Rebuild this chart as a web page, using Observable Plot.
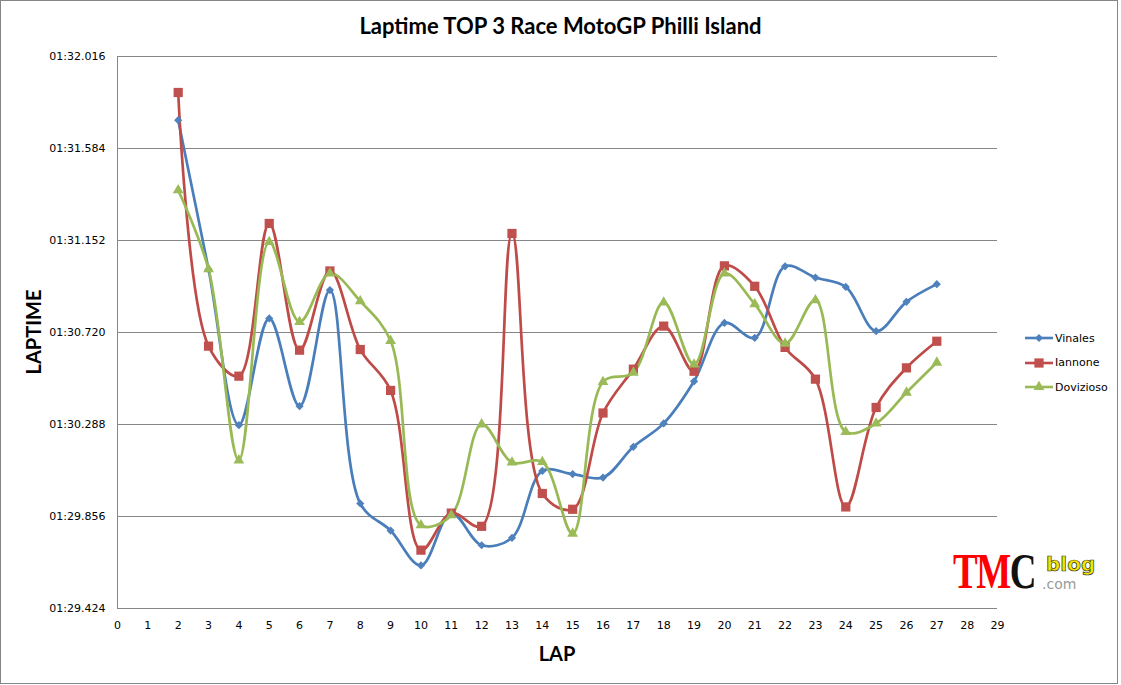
<!DOCTYPE html>
<html>
<head>
<meta charset="utf-8">
<script src="https://cdn.jsdelivr.net/npm/d3@7"></script>
<script src="https://cdn.jsdelivr.net/npm/@observablehq/plot@0.6"></script>
<style>
  body { margin: 0; background: #fff; }
  #wrap { position: relative; width: 1121px; height: 685px; font-family: "DejaVu Sans", sans-serif; }
  #frame { position: absolute; left: 0; top: 0; width: 1116px; height: 682px; border: 1px solid #868686; }
  #chart { position: absolute; left: 0; top: 0; }
  .title { position: absolute; left: 0; width: 1121px; top: 12px; text-align: center; font-family: Lato, sans-serif; font-weight: bold; font-size: 22px; line-height: 28px; color: #000; }
  .ytitle { position: absolute; left: -67px; top: 319px; width: 200px; height: 26px; line-height: 26px; text-align: center; transform: rotate(-90deg); font-family: Lato, sans-serif; font-weight: bold; font-size: 20px; }
  .xtitle { position: absolute; left: 457px; width: 200px; top: 640px; line-height: 26px; text-align: center; font-family: Lato, sans-serif; font-weight: bold; font-size: 20px; }
  #legend { position: absolute; left: 1025px; top: 326px; font-size: 11px; }
  .lg { display: flex; align-items: center; height: 24.5px; }
  .lg svg { margin-right: 2px; }
  .wm { position: absolute; left: 953px; top: 546px; font-family: "Liberation Serif", serif; font-weight: bold; font-size: 50px; line-height: 50px; transform: scaleX(0.74); transform-origin: left top; white-space: nowrap; letter-spacing: -2px; }
  .blog { position: absolute; left: 1046px; top: 552px; font-family: "DejaVu Sans", sans-serif; font-weight: bold; font-size: 20px; color: #f5e400; -webkit-text-stroke: 0.7px #333; }
  .com { position: absolute; left: 1042px; top: 576px; font-family: "DejaVu Sans", sans-serif; font-size: 14px; color: #9a9a9a; }
</style>
</head>
<body>
<div id="wrap">
  <div id="frame"></div>
  <div id="chart"></div>
  <div class="title">Laptime TOP 3 Race MotoGP Philli Island</div>
  <div class="ytitle">LAPTIME</div>
  <div class="xtitle">LAP</div>
  <div id="legend"></div>
  <div class="wm"><span style="color:#f00">TM</span><span style="color:#111">C</span></div>
  <div class="blog">blog</div>
  <div class="com">.com</div>
</div>
<script>
// ---- Data (lap times in seconds) ----
const riders = ["Vinales", "Iannone", "Dovizioso"];
const laps = [2, 3, 4, 5, 6, 7, 8, 9, 10, 11, 12, 13, 14, 15, 16, 17, 18, 19, 20, 21, 22, 23, 24, 25, 26, 27];
const vinales = [91.717, 91.017, 90.285, 90.786, 90.374, 90.919, 89.917, 89.790, 89.626, 89.872, 89.721, 89.756, 90.070,
  90.055, 90.039, 90.183, 90.293, 90.491, 90.765, 90.695, 91.031, 90.978, 90.934, 90.726, 90.864, 90.947];
const iannone = [91.847, 90.656, 90.515, 91.232, 90.637, 91.009, 90.640, 90.448, 89.698, 89.872, 89.810, 91.185, 89.964,
  89.890, 90.342, 90.548, 90.750, 90.538, 91.033, 90.937, 90.650, 90.501, 89.901, 90.368, 90.554, 90.679];
const dovizioso = [91.388, 91.017, 90.120, 91.145, 90.770, 90.997, 90.867, 90.681, 89.815, 89.862, 90.289, 90.110, 90.112,
  89.776, 90.488, 90.532, 90.861, 90.570, 90.997, 90.853, 90.668, 90.872, 90.253, 90.293, 90.438, 90.579];
const yTicks = [89.424, 89.856, 90.288, 90.720, 91.152, 91.584, 92.016];
const xTicks = [0, 1, 2, 3, 4, 5, 6, 7, 8, 9, 10, 11, 12, 13, 14, 15, 16, 17, 18, 19, 20, 21, 22, 23, 24, 25, 26, 27, 28, 29];

const lineColors = ["#4a7ebb", "#be4b48", "#98b954"];
const markColors = ["#4f81bd", "#c0504d", "#9bbb59"];
const symbols = ["diamond2", "square", "triangle"];
const radii = [3.7, 5.2, 4.0];

const series = [vinales, iannone, dovizioso];
const rows = series.map((vals, i) => laps.map((lap, j) => ({ rider: riders[i], lap, time: vals[j] })));
const all = rows.flat();

const fmt = v => {
  const m = Math.floor(v / 60);
  const s = v - m * 60;
  return String(m).padStart(2, "0") + ":" + s.toFixed(3).padStart(6, "0");
};

const chart = Plot.plot({
  width: 1121,
  height: 685,
  marginLeft: 117,
  marginRight: 124,
  marginTop: 56,
  marginBottom: 77,
  style: { fontFamily: "DejaVu Sans, sans-serif", fontSize: "11px", color: "#000", background: "transparent" },
  x: { domain: [0, 29] },
  y: { domain: [89.424, 92.016] },
  color: { domain: riders, range: lineColors },
  marks: [
    Plot.gridY(yTicks, { stroke: "#868686", strokeOpacity: 1, strokeWidth: 1 }),
    Plot.ruleX([0], { stroke: "#868686", strokeWidth: 1 }),
    Plot.ruleY([89.424], { stroke: "#868686", strokeWidth: 1 }),
    Plot.axisY(yTicks, { tickSize: 0, tickPadding: 12, tickFormat: fmt, label: null, fontSize: 11 }),
    Plot.axisX(xTicks, { tickSize: 0, tickPadding: 13, tickFormat: d => String(d), label: null, fontSize: 11 }),
    Plot.line(all, { x: "lap", y: "time", z: "rider", stroke: "rider", strokeWidth: 2.7, curve: "catmull-rom" }),
    ...rows.map((r, i) => Plot.dot(r, { x: "lap", y: "time", symbol: () => symbols[i], fill: markColors[i], stroke: "none", r: radii[i] }))
  ]
});
document.getElementById("chart").appendChild(chart);

// Legend
const legend = document.getElementById("legend");
riders.forEach((name, i) => {
  const row = document.createElement("div");
  row.className = "lg";
  const sym = d3.symbol().type({ diamond2: d3.symbolDiamond2, square: d3.symbolSquare, triangle: d3.symbolTriangle }[symbols[i]]).size(Math.PI * radii[i] * radii[i])();
  row.innerHTML = `<svg width="28" height="14"><line x1="0" x2="28" y1="7" y2="7" stroke="${lineColors[i]}" stroke-width="2.6"/><path transform="translate(14,7)" d="${sym}" fill="${markColors[i]}"/></svg><span>${name}</span>`;
  legend.appendChild(row);
});
</script>
</body>
</html>
